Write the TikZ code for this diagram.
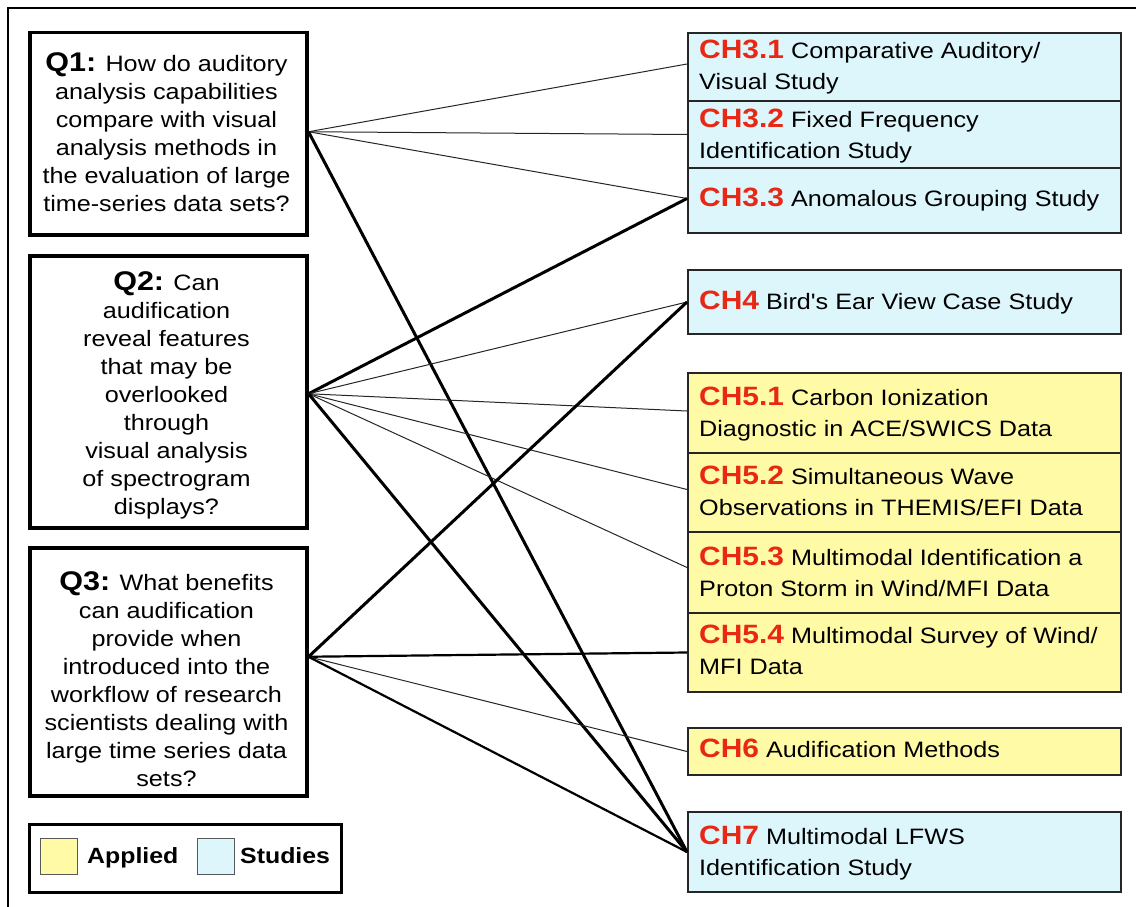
\documentclass[tikz,border=0pt]{standalone}
\usepackage{fontspec}
\setmainfont{Liberation Sans}[FakeStretch=1.13, Ligatures=TeXOff]
\usetikzlibrary{calc}
\definecolor{studyblue}{RGB}{220,246,252}
\definecolor{appyellow}{RGB}{255,250,165}
\definecolor{chred}{RGB}{232,40,20}
\newcommand{\chlab}[1]{{\fontsize{26.5}{31}\selectfont\bfseries\color{chred}#1}}
\newcommand{\qlab}[1]{{\fontsize{27}{28}\selectfont\bfseries #1}}
\tikzset{
  qbox/.style={draw=black, line width=3.5pt, minimum width=277pt, anchor=north west, inner sep=0pt},
  qtext/.style={align=center, anchor=north, inner sep=0pt, font=\fontsize{22.3}{28}\selectfont},
  chbox/.style={draw=black!85, line width=2pt, anchor=north west, minimum width=433pt, inner sep=0pt},
  studybox/.style={chbox, fill=studyblue},
  appliedbox/.style={chbox, fill=appyellow},
  chtext/.style={align=left, anchor=north west, inner sep=0pt, font=\fontsize{22.3}{31}\selectfont},
  swatch/.style={draw=black!65, line width=1pt, minimum width=37pt, minimum height=36pt, anchor=north west, inner sep=0pt},
  legtext/.style={anchor=base west, inner sep=0pt, font=\fontsize{22}{26}\selectfont\bfseries},
  linkthin/.style={line width=1pt, black!85},
  linkmed/.style={line width=2.2pt, black},
  linkthick/.style={line width=3pt, black},
}
\begin{document}
\begin{tikzpicture}[x=1pt,y=-1pt]
\useasboundingbox (0,0) rectangle (1136,907);
% outer frame (top and left visible)
\draw[line width=1.5pt] (8,907) -- (8,8) -- (1136,8);

% question boxes
\node[qbox, minimum height=202pt] (q1) at (28,31) {};
\node[qbox, minimum height=272pt] (q2) at (28,254) {};
\node[qbox, minimum height=248pt] (q3) at (28,546) {};
\node[qtext] (q1t) at (166.5,52) {\qlab{Q1:} How do auditory\\analysis capabilities\\compare with visual\\analysis methods in\\the evaluation of large\\time-series data sets?};
\node[qtext] (q2t) at (166.5,271) {\qlab{Q2:} Can\\audification\\reveal features\\that may be\\overlooked\\through\\visual analysis\\of spectrogram\\displays?};
\node[qtext] (q3t) at (166.5,571) {\qlab{Q3:} What benefits\\can audification\\provide when\\introduced into the\\workflow of research\\scientists dealing with\\large time series data\\sets?};

% chapter boxes
\node[studybox, minimum height=68pt] (ch31) at (687,32) {};
\node[studybox, minimum height=67pt] (ch32) at (687,100) {};
\node[studybox, minimum height=65pt] (ch33) at (687,167) {};
\node[studybox, minimum height=64pt] (ch4) at (687,269) {};
\node[appliedbox, minimum height=80pt] (ch51) at (687,372) {};
\node[appliedbox, minimum height=79pt] (ch52) at (687,452) {};
\node[appliedbox, minimum height=81pt] (ch53) at (687,531) {};
\node[appliedbox, minimum height=79pt] (ch54) at (687,612) {};
\node[appliedbox, minimum height=47pt] (ch6) at (687,727) {};
\node[studybox, minimum height=80pt] (ch7) at (687,811) {};

\node[chtext] (ch31t) at (699,40) {\chlab{CH3.1} Comparative Auditory/\\Visual Study};
\node[chtext] (ch32t) at (699,109) {\chlab{CH3.2} Fixed Frequency\\Identification Study};
\node[chtext] (ch33t) at (699,188) {\chlab{CH3.3} Anomalous Grouping Study};
\node[chtext] (ch4t) at (699,291) {\chlab{CH4} Bird's Ear View Case Study};
\node[chtext] (ch51t) at (699,387) {\chlab{CH5.1} Carbon Ionization\\Diagnostic in ACE/SWICS Data};
\node[chtext] (ch52t) at (699,466) {\chlab{CH5.2} Simultaneous Wave\\Observations in THEMIS/EFI Data};
\node[chtext] (ch53t) at (699,547) {\chlab{CH5.3} Multimodal Identification a\\Proton Storm in Wind/MFI Data};
\node[chtext] (ch54t) at (699,625) {\chlab{CH5.4} Multimodal Survey of Wind/\\MFI Data};
\node[chtext] (ch6t) at (699,739) {\chlab{CH6} Audification Methods};
\node[chtext] (ch7t) at (699,826) {\chlab{CH7} Multimodal LFWS\\Identification Study};

% legend
\node[draw=black, line width=2.5pt, minimum width=312pt, minimum height=68pt, anchor=north west, inner sep=0pt] (legend) at (28,823) {};
\node[swatch, fill=appyellow] (swy) at (40,838) {};
\node[swatch, fill=studyblue] (swb) at (197,838) {};
\node[legtext] (legapp) at (87,863) {Applied};
\node[legtext] (legstu) at (240,863) {Studies};

% connectors
\coordinate (q1p) at ([yshift=2pt]q1.east);
\coordinate (q2p) at ([yshift=-2pt]q2.east);
\coordinate (q3p) at ([yshift=15pt]q3.east);
\draw[linkthin] (q1p) -- ([yshift=3pt]ch31.west);
\draw[linkthin] (q1p) -- (ch32.west);
\draw[linkthin] (q1p) -- ([yshift=2pt]ch33.west);
\draw[linkthick] (q1p) -- (ch7.west);
\draw[linkthick] (q2p) -- ([yshift=2pt]ch33.west);
\draw[linkthin] (q2p) -- (ch4.west);
\draw[linkthin] (q2p) -- ([yshift=2pt]ch51.west);
\draw[linkthin] (q2p) -- ([yshift=3pt]ch52.west);
\draw[linkthin] (q2p) -- ([yshift=5pt]ch53.west);
\draw[linkthick] (q2p) -- (ch7.west);
\draw[linkthick] (q3p) -- (ch4.west);
\draw[linkmed] (q3p) -- (ch54.west);
\draw[linkthin] (q3p) -- (ch6.west);
\draw[linkmed] (q3p) -- (ch7.west);
\end{tikzpicture}
\end{document}
